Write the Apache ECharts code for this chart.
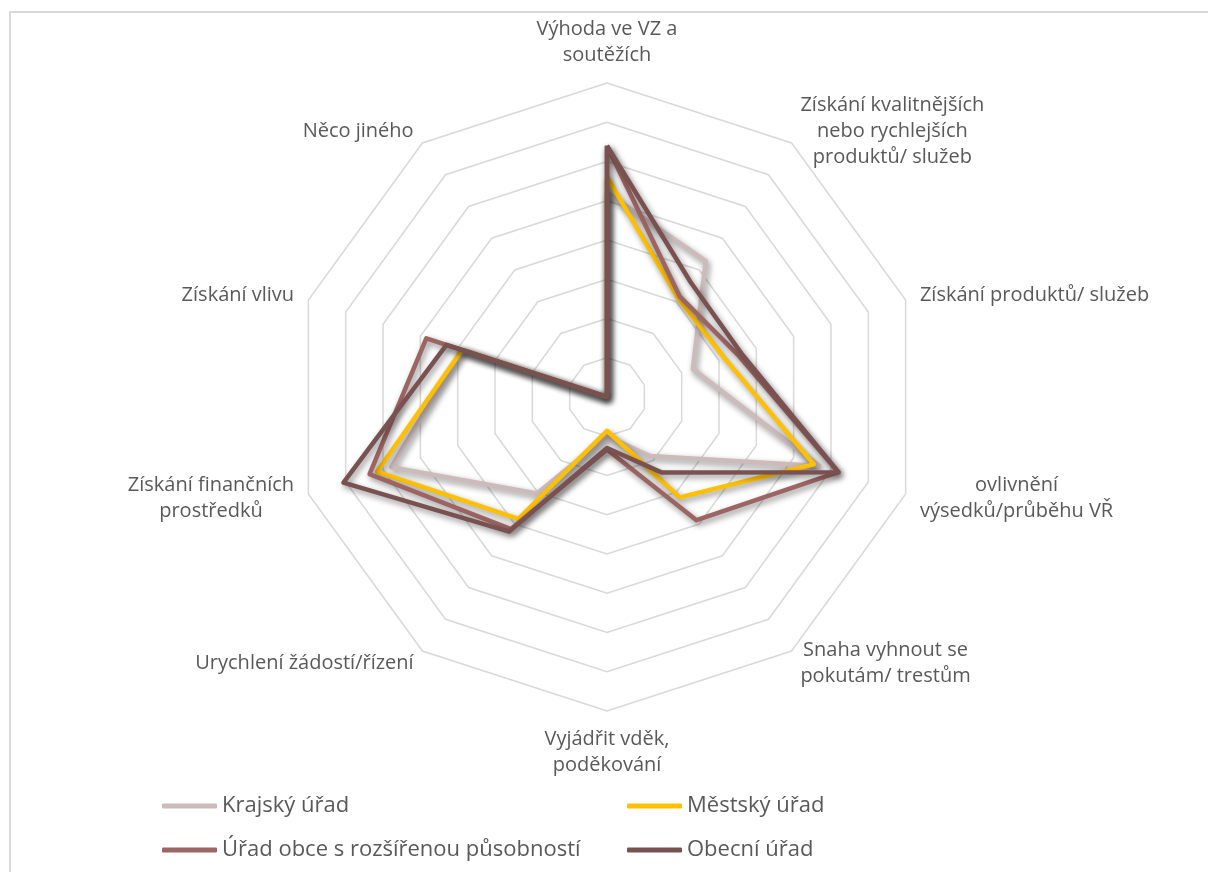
<!DOCTYPE html>
<html>
<head>
<meta charset="utf-8">
<script src="https://cdn.jsdelivr.net/npm/echarts@6/dist/echarts.min.js"></script>
<style>
  html, body { margin: 0; padding: 0; background: #fff; }
  #chart { width: 1208px; height: 872px; }
</style>
</head>
<body>
<div id="chart"></div>
<script>
// axis names, clockwise from the top
const categories = [
  'Výhoda ve VZ a\nsoutěžích',
  'Získání kvalitnějších\nnebo rychlejších\nproduktů/ služeb',
  'Získání produktů/ služeb',
  'ovlivnění\nvýsedků/průběhu VŘ',
  'Snaha vyhnout se\npokutám/ trestům',
  'Vyjádřit vděk,\npoděkování',
  'Urychlení žádostí/řízení',
  'Získání finančních\nprostředků',
  'Získání vlivu',
  'Něco jiného'
]

const seriesNames = [
  'Krajský úřad',
  'Městský úřad',
  'Úřad obce s rozšířenou působností',
  'Obecní úřad'
]

// values in %, same order as categories
const krajsky = [26, 21.4, 11.5, 28.4, 9.3, 5, 15.2, 28.9, 19.4, 0]
const mestsky = [28, 15.5, 15.8, 27.7, 15.8, 4.3, 19.2, 30.8, 19.4, 0]
const orp = [32, 15.8, 17.5, 31, 19.4, 6.7, 20.8, 31.8, 24.2, 0]
const obecni = [32, 18.1, 18, 31, 11.9, 6.5, 21.2, 35.3, 21.5, 0]

const maxValue = 40
const splitCount = 8

const colors = ['#CDBABA', '#FFC000', '#9C6462', '#7A5151']

// echarts places indicators counter-clockwise, so flip the order after the first one
const ccw = (arr) => [arr[0]].concat(arr.slice(1).reverse())

const textColor = '#595959'
const fontFamily = '"Open Sans", "DejaVu Sans", sans-serif'

const chart = echarts.init(document.getElementById('chart'))

const allValues = [krajsky, mestsky, orp, obecni]

const legends = [
  { left: 157, top: 790 },
  { left: 622, top: 790 },
  { left: 157, top: 834 },
  { left: 622, top: 834 }
].map((pos, i) => ({
  left: pos.left,
  top: pos.top,
  data: [seriesNames[i]],
  icon: 'roundRect',
  itemWidth: 55,
  itemHeight: 5,
  textStyle: { color: textColor, fontSize: 22, fontFamily: fontFamily },
  selectedMode: false
}))

const option = {
  backgroundColor: '#fff',
  animation: false,
  graphic: [
    {
      type: 'rect',
      shape: { x: 10, y: 12, width: 1240, height: 900 },
      style: { fill: 'none', stroke: '#D9D9D9', lineWidth: 2 },
      silent: true
    }
  ],
  legend: legends,
  radar: {
    center: [607, 397],
    radius: 314,
    startAngle: 90,
    splitNumber: splitCount,
    shape: 'polygon',
    nameGap: 15,
    axisName: {
      color: textColor,
      fontSize: 20,
      lineHeight: 26,
      fontFamily: fontFamily,
      // center every line inside the label block, like the original
      formatter: (name) => name.split('\n').map((s) => '{c|' + s + '}').join('\n'),
      rich: {
        c: {
          align: 'center',
          color: textColor,
          fontSize: 20,
          lineHeight: 26,
          fontFamily: fontFamily
        }
      }
    },
    axisLine: { show: false },
    axisTick: { show: false },
    axisLabel: { show: false },
    splitArea: { show: false },
    splitLine: {
      lineStyle: { color: '#D9D9D9', width: 1.5 }
    },
    indicator: ccw(categories).map((name) => ({ name: name, min: 0, max: maxValue }))
  },
  series: allValues.map((vals, i) => ({
    name: seriesNames[i],
    type: 'radar',
    symbol: 'none',
    z: 2 + i,
    itemStyle: { color: colors[i] },
    lineStyle: {
      color: colors[i],
      width: 4.5,
      shadowColor: 'rgba(0, 0, 0, 0.45)',
      shadowBlur: 6,
      shadowOffsetX: 2,
      shadowOffsetY: 3
    },
    data: [{ name: seriesNames[i], value: ccw(vals) }]
  }))
}

chart.setOption(option)
</script>
</body>
</html>
